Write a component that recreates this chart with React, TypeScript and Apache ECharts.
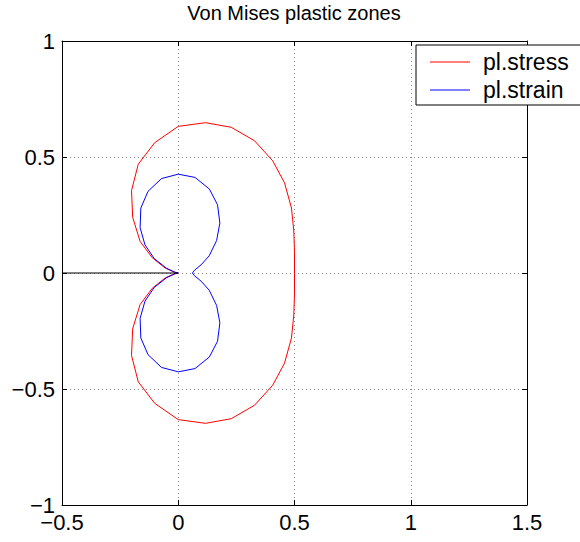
import React, { useEffect, useRef } from "react";
import * as echarts from "echarts";

// Plane stress plastic zone boundary (theta from -180 to 180 deg, 10 deg steps)
const stressX = [
  0, -0.015, -0.056, -0.112, -0.164, -0.196, -0.201, -0.172, -0.101, 0,
  0.117, 0.228, 0.328, 0.406, 0.457, 0.487, 0.497, 0.5, 0.5,
  0.5, 0.497, 0.487, 0.457, 0.406, 0.328, 0.228, 0.117, 0,
  -0.101, -0.172, -0.201, -0.196, -0.164, -0.112, -0.056, -0.015, 0,
];
const stressY = [
  0, -0.003, -0.021, -0.066, -0.136, -0.24, -0.355, -0.469, -0.562, -0.632,
  -0.648, -0.628, -0.57, -0.484, -0.389, -0.28, -0.181, -0.088, 0,
  0.088, 0.181, 0.28, 0.389, 0.484, 0.57, 0.628, 0.648, 0.632,
  0.562, 0.469, 0.355, 0.24, 0.136, 0.066, 0.021, 0.003, 0,
];

// Plane strain plastic zone boundary
const strainX = [
  0, -0.013, -0.05, -0.103, -0.143, -0.164, -0.161, -0.13, -0.072, 0,
  0.072, 0.134, 0.169, 0.179, 0.165, 0.133, 0.098, 0.07, 0.061,
  0.07, 0.098, 0.133, 0.165, 0.179, 0.169, 0.134, 0.072, 0,
  -0.072, -0.13, -0.161, -0.164, -0.143, -0.103, -0.05, -0.013, 0,
];
const strainY = [
  0, -0.003, -0.02, -0.062, -0.121, -0.195, -0.28, -0.352, -0.407, -0.426,
  -0.412, -0.362, -0.294, -0.215, -0.14, -0.074, -0.035, -0.012, 0,
  0.012, 0.035, 0.074, 0.14, 0.215, 0.294, 0.362, 0.412, 0.426,
  0.407, 0.352, 0.28, 0.195, 0.121, 0.062, 0.02, 0.003, 0,
];

// Crack line
const crackX = [-0.5, 0];
const crackY = [0, 0];

const seriesNames = ["pl.stress", "pl.strain"];
const titleText = "Von Mises plastic zones";

const FONT = "'Liberation Sans', Arial, Helvetica, sans-serif";

const pairs = (xs: number[], ys: number[]) => xs.map((x, i) => [x, ys[i]]);
const fmt = (v: number) => String(v).replace("-", "\u2212");

export default function App() {
  const ref = useRef<HTMLDivElement>(null);
  useEffect(() => {
    if (!ref.current) return;
    const chart = echarts.init(ref.current, null, { renderer: "svg" });
    const axisLine = { show: true, onZero: false, lineStyle: { color: "#000", width: 1 } };
    const tick = { show: true, inside: true, length: 5, lineStyle: { color: "#000" } };
    const split = { show: true, lineStyle: { color: "#8a8a8a", type: [1, 3] as any, width: 1 } };
    chart.setOption({
      animation: false,
      backgroundColor: "#fff",
      title: {
        text: titleText,
        left: 294,
        top: 3,
        padding: 0,
        textAlign: "center",
        textStyle: { fontFamily: FONT, fontSize: 20, fontWeight: "normal", color: "#000" },
      },
      grid: { left: 62, top: 41, width: 465, height: 464, containLabel: false },
      legend: {
        data: seriesNames.map((n) => ({ name: n, icon: "rect" })),
        orient: "vertical",
        left: 416,
        top: 45,
        backgroundColor: "#fff",
        borderColor: "#000",
        borderWidth: 1,
        borderRadius: 0,
        padding: [5, 20, 3, 14],
        itemWidth: 40,
        itemHeight: 1,
        itemGap: 4,
        align: "left",
        textStyle: { fontFamily: FONT, fontSize: 23, color: "#000", lineHeight: 24, padding: [0, 0, 0, 8] },
      },
      xAxis: [
        {
          type: "value",
          min: -0.5,
          max: 1.5,
          interval: 0.5,
          position: "bottom",
          axisLine,
          axisTick: tick,
          splitLine: split,
          axisLabel: { fontFamily: FONT, fontSize: 22, color: "#000", margin: 6, formatter: fmt },
        },
        {
          type: "value",
          min: -0.5,
          max: 1.5,
          interval: 0.5,
          position: "top",
          axisLine,
          axisTick: tick,
          splitLine: { show: false },
          axisLabel: { show: false },
        },
      ],
      yAxis: [
        {
          type: "value",
          min: -1,
          max: 1,
          interval: 0.5,
          position: "left",
          axisLine,
          axisTick: tick,
          splitLine: split,
          axisLabel: { fontFamily: FONT, fontSize: 22, color: "#000", margin: 7, formatter: fmt },
        },
        {
          type: "value",
          min: -1,
          max: 1,
          interval: 0.5,
          position: "right",
          axisLine,
          axisTick: tick,
          splitLine: { show: false },
          axisLabel: { show: false },
        },
      ],
      series: [
        {
          name: seriesNames[0],
          type: "line",
          data: pairs(stressX, stressY),
          symbol: "none",
          lineStyle: { color: "#ff0000", width: 1 },
          itemStyle: { color: "#ff0000" },
        },
        {
          name: seriesNames[1],
          type: "line",
          data: pairs(strainX, strainY),
          symbol: "none",
          lineStyle: { color: "#0000ff", width: 1 },
          itemStyle: { color: "#0000ff" },
        },
        {
          name: "crack",
          type: "line",
          data: pairs(crackX, crackY),
          symbol: "none",
          lineStyle: { color: "#000", width: 1 },
          itemStyle: { color: "#000" },
        },
      ],
    });
    return () => chart.dispose();
  }, []);
  return <div ref={ref} style={{ width: 580, height: 542, position: "absolute", left: 0, top: 0 }} />;
}
